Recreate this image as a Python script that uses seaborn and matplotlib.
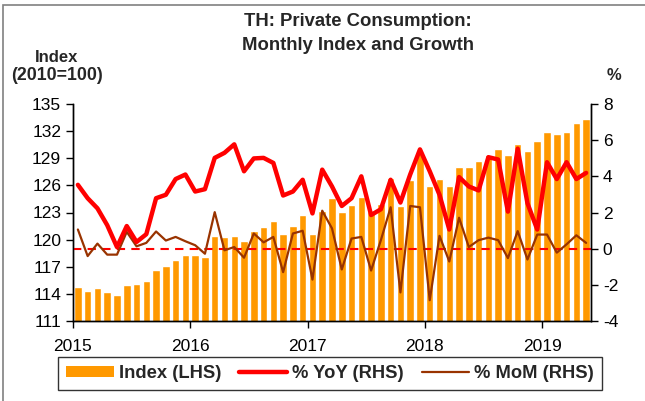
import numpy as np
import pandas as pd
import matplotlib
matplotlib.use("Agg")
import matplotlib.pyplot as plt
from matplotlib.patches import Patch, Rectangle
from matplotlib.lines import Line2D
import seaborn as sns

# monthly data, Jan 2015 - May 2019
months = pd.date_range("2015-01-01", "2019-05-01", freq="MS").strftime("%Y-%m").tolist()

index_lhs = [114.8, 114.35, 114.65, 114.25, 113.9, 115.0, 115.1, 115.45, 116.6, 117.1,
             117.8, 118.3, 118.35, 118.05, 120.45, 120.3, 120.45, 119.85, 120.9, 121.35,
             122.1, 120.6, 121.55, 122.75, 120.65, 123.2, 124.55, 123.1, 123.85, 124.7,
             123.2, 123.95, 126.8, 123.7, 126.6, 129.7, 125.9, 126.7, 125.9, 128.05,
             128.05, 128.65, 129.4, 130.05, 129.35, 130.6, 129.85, 130.9, 131.9, 131.65,
             131.9, 132.9, 133.35]

yoy_rhs = [3.53, 2.79, 2.23, 1.3, 0.09, 1.25, 0.37, 0.8, 2.79, 2.98,
           3.85, 4.1, 3.16, 3.29, 5.02, 5.3, 5.77, 4.28, 4.99, 5.02,
           4.74, 2.94, 3.16, 3.81, 1.95, 4.37, 3.44, 2.36, 2.79, 4.0,
           1.86, 2.18, 3.81, 2.55, 4.1, 5.49, 4.28, 2.98, 1.06, 3.96,
           3.44, 3.22, 5.06, 4.93, 2.05, 5.53, 2.51, 1.06, 4.78, 3.85,
           4.78, 3.85, 4.19]

mom_rhs = [1.06, -0.41, 0.28, -0.33, -0.33, 0.93, 0.13, 0.32, 0.95, 0.45,
           0.65, 0.41, 0.19, -0.28, 2.02, -0.09, 0.09, -0.5, 0.84, 0.35,
           0.65, -1.3, 0.84, 0.99, -1.71, 2.1, 1.12, -1.15, 0.56, 0.65,
           -1.21, 0.47, 2.29, -2.42, 2.36, 2.29, -2.85, 0.71, -0.71, 1.71,
           0.09, 0.47, 0.61, 0.47, -0.52, 0.97, -0.6, 0.78, 0.78, -0.22,
           0.24, 0.74, 0.32]

year_labels = ["2015", "2016", "2017", "2018", "2019"]

ORANGE = "#FF9900"
RED = "#FF0000"
BROWN = "#993300"

sns.set_theme(style="white")
plt.rcParams["font.family"] = ["Liberation Sans", "DejaVu Sans"]
plt.rcParams["axes.unicode_minus"] = False

df = pd.DataFrame({"month": months, "index": index_lhs,
                   "yoy": yoy_rhs, "mom": mom_rhs})
df["pos"] = np.arange(len(df))

fig = plt.figure(figsize=(6.45, 4.01), dpi=100)
ax = fig.add_axes([73 / 645, 1 - 321 / 401, (591 - 73) / 645, (321 - 104) / 401])

sns.barplot(data=df, x="month", y="index", color=ORANGE, saturation=1,
            width=0.77, ax=ax)
ax.set_ylim(111, 135)
ax.set_yticks(np.arange(111, 136, 3))
ax.set_xlim(-0.5, len(df) - 0.5)
ax.set_xticks(np.arange(-0.5, len(df), 12))
ax.set_xticklabels(year_labels)
ax.set_xlabel("")
ax.set_ylabel("")

ax2 = ax.twinx()
ax2.axhline(0, color=RED, lw=1.5, ls=(0, (4, 3)))
sns.lineplot(data=df, x="pos", y="mom", color=BROWN, lw=1.6, ax=ax2)
sns.lineplot(data=df, x="pos", y="yoy", color=RED, lw=3.2, ax=ax2)
ax2.set_ylim(-4, 8)
ax2.set_yticks(np.arange(-4, 9, 2))
ax2.set_xlim(-0.5, len(df) - 0.5)
ax2.set_xlabel("")
ax2.set_ylabel("")

for a in (ax, ax2):
    a.spines["top"].set_visible(False)
    for s in ("left", "right", "bottom"):
        a.spines[s].set_color("black")
        a.spines[s].set_linewidth(1.0)
    a.tick_params(labelsize=12.5, colors="black", length=5, width=1)
    a.grid(False)
ax.tick_params(axis="x", direction="out", bottom=True, pad=8)
ax.tick_params(axis="y", left=True, direction="out")
ax2.tick_params(axis="y", right=True, direction="out")

fig.text(358 / 645, 1 - 22 / 401, "TH: Private Consumption:", ha="center", va="center",
         fontsize=13.3, fontweight="bold")
fig.text(358 / 645, 1 - 45 / 401, "Monthly Index and Growth", ha="center", va="center",
         fontsize=13.3, fontweight="bold")
fig.text(57 / 645, 1 - 57 / 401, "Index", ha="center", va="center",
         fontsize=12, fontweight="bold")
fig.text(57 / 645, 1 - 75 / 401, "(2010=100)", ha="center", va="center",
         fontsize=12.8, fontweight="bold")
fig.text(614 / 645, 1 - 76 / 401, "%", ha="center", va="center",
         fontsize=12, fontweight="bold")

handles = [Patch(facecolor=ORANGE, edgecolor="none", label="Index (LHS)"),
           Line2D([], [], color=RED, lw=3.2, label="% YoY (RHS)"),
           Line2D([], [], color=BROWN, lw=1.6, label="% MoM (RHS)")]
leg = fig.legend(handles=handles, loc="center", bbox_to_anchor=(330 / 645, 1 - 373.5 / 401),
                 ncol=3, frameon=True, fancybox=False, edgecolor="black",
                 prop={"weight": "bold", "size": 13.2}, handlelength=2.6,
                 handleheight=0.5, columnspacing=1.0, handletextpad=0.25,
                 borderpad=0.45, borderaxespad=0)
leg.get_frame().set_linewidth(1.0)

# outer chart frame
fig.patches.append(Rectangle((3 / 645, -0.1), 1.2, 1.1 - 5 / 401, transform=fig.transFigure,
                             fill=False, edgecolor="#808080", lw=1.2, zorder=0))

fig.savefig("out.png", dpi=100)
